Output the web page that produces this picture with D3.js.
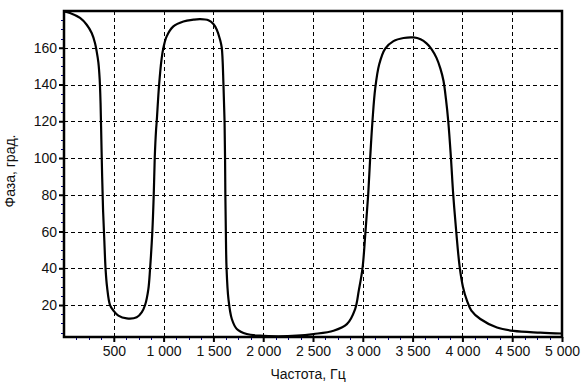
<!DOCTYPE html>
<html>
<head>
<meta charset="utf-8">
<script src="https://cdn.jsdelivr.net/npm/d3@7"></script>
<style>
body{margin:0;background:#fff;}
svg{display:block;font-family:Arial,"Liberation Sans",sans-serif;}
</style>
</head>
<body>
<svg id="chart" width="582" height="385"></svg>
<script>
const freq = [0,60,161,228,278,311,328,345,358,367,375,383,392,405,417,432,462,496,546,630,730,780,814,847,864,887,901,911,924,931,955,980,998,1031,1098,1199,1300,1366,1450,1500,1534,1567,1584,1601,1612,1617,1620,1625,1632,1651,1685,1735,1835,1969,2150,2337,2505,2706,2840,2923,2960,2997,3027,3054,3074,3097,3125,3165,3225,3308,3409,3509,3580,3640,3690,3740,3780,3810,3835,3858,3885,3908,3938,3972,4005,4045,4090,4180,4347,4514,4782,5000];
const phase = [179.8,178.9,176.2,172.5,168,162.6,158,152,143,130,110,90,72,55,40,30,20,17,14.2,12.7,13.3,16,20,28.7,39.6,60,80,100,115,120,140,154,160,166.2,171.6,174.3,175.3,175.6,175,172.9,169.8,164.4,160,140,120,100,80,60,40,23.3,12.4,7,4.2,3.3,3,3.3,4.2,6,9.6,17.8,28,40,60,80,100,120,138,151,159.5,163.6,165.3,165.6,164.6,162.4,159.3,154.5,148.5,142,132,120,100,80,60,41,30,22.5,17,12.4,7.8,5.9,5,4.5];
const xTicks = [500,1000,1500,2000,2500,3000,3500,4000,4500,5000];
const yTicks = [20,40,60,80,100,120,140,160];
const xLabel = "Частота, Гц";
const yLabel = "Фаза, град.";

const W = 582, H = 385;
const m = {left:64, right:20, top:11, bottom:48};
const svg = d3.select("#chart");
const x = d3.scaleLinear().domain([0,5000]).range([m.left, W-m.right]);
const y = d3.scaleLinear().domain([2.6,180]).range([H-m.bottom, m.top]);

const fmt = v => d3.format(",")(v).replace(/,/g," ");

// grid
const g = svg.append("g");
g.selectAll("line.vg").data(xTicks.slice(0,-1)).join("line")
  .attr("x1",d=>Math.round(x(d))+0.5).attr("x2",d=>Math.round(x(d))+0.5)
  .attr("y1",m.top).attr("y2",H-m.bottom)
  .attr("stroke","#000").attr("stroke-width",1).attr("stroke-dasharray","4,3");
g.selectAll("line.hg").data(yTicks).join("line")
  .attr("y1",d=>Math.round(y(d))+0.5).attr("y2",d=>Math.round(y(d))+0.5)
  .attr("x1",m.left).attr("x2",W-m.right)
  .attr("stroke","#000").attr("stroke-width",1).attr("stroke-dasharray","4,3");

// minor ticks
const xMinor = d3.range(125,5000,125).filter(v=>v%500!==0);
svg.append("g").selectAll("line").data(xMinor).join("line")
  .attr("x1",d=>Math.round(x(d))+0.5).attr("x2",d=>Math.round(x(d))+0.5)
  .attr("y1",H-m.bottom).attr("y2",H-m.bottom+3)
  .attr("stroke","#000080").attr("stroke-width",1);
const yMinor = d3.range(5,180,5).filter(v=>v%20!==0);
svg.append("g").selectAll("line").data(yMinor).join("line")
  .attr("y1",d=>Math.round(y(d))+0.5).attr("y2",d=>Math.round(y(d))+0.5)
  .attr("x1",m.left-3).attr("x2",m.left)
  .attr("stroke","#000080").attr("stroke-width",1);

// axes
const xAxis = d3.axisBottom(x).tickValues(xTicks).tickFormat(fmt).tickSize(5).tickPadding(4);
const yAxis = d3.axisLeft(y).tickValues(yTicks).tickFormat(fmt).tickSize(5).tickPadding(2);
const gx = svg.append("g").attr("transform",`translate(0,${H-m.bottom})`).call(xAxis);
const gy = svg.append("g").attr("transform",`translate(${m.left},0)`).call(yAxis);
[gx,gy].forEach(a=>{
  a.select(".domain").remove();
  a.selectAll(".tick line").attr("stroke","#000").attr("stroke-width",2);
  a.selectAll(".tick text").attr("fill","#111").style("font-size","14px").style("font-family","Arial,'Liberation Sans',sans-serif");
});

// line
const line = d3.line().x((d,i)=>x(freq[i])).y(d=>y(d)).curve(d3.curveCatmullRom.alpha(0.5));
svg.append("path").datum(phase).attr("d",line)
  .attr("fill","none").attr("stroke","#000").attr("stroke-width",2.2).attr("stroke-linejoin","round");

// frame
svg.append("rect").attr("x",m.left).attr("y",m.top)
  .attr("width",W-m.left-m.right).attr("height",H-m.top-m.bottom)
  .attr("fill","none").attr("stroke","#000").attr("stroke-width",2.5);

// labels
svg.append("text").attr("x",x(2450)).attr("y",379).attr("text-anchor","middle")
  .style("font-size","14px").attr("fill","#111").text(xLabel);
svg.append("text").attr("transform",`translate(15,${171}) rotate(-90)`).attr("text-anchor","middle")
  .style("font-size","14px").attr("fill","#111").text(yLabel);
</script>
</body>
</html>
